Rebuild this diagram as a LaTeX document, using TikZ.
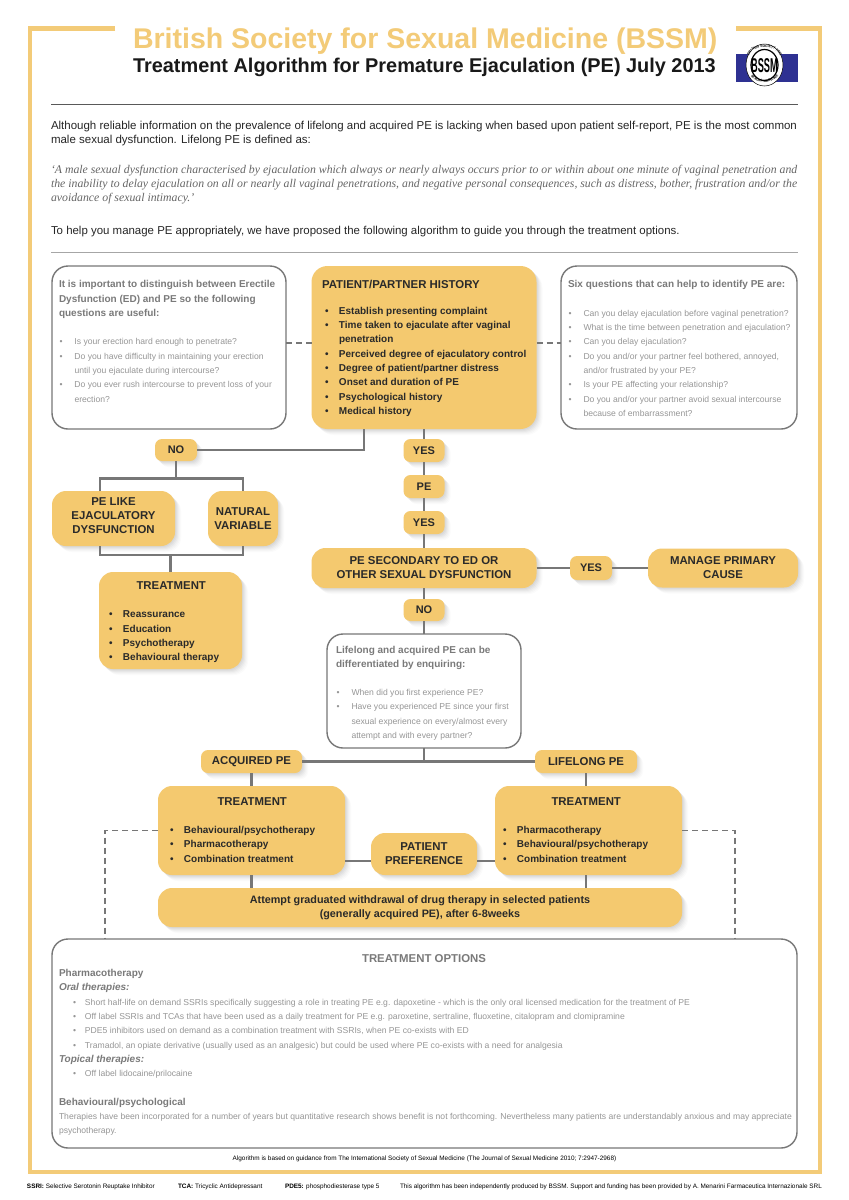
\documentclass[tikz,border=0pt]{standalone}
\usepackage{fontspec}
\setmainfont{Liberation Sans}
\newfontfamily\serifit{Liberation Serif}
\usetikzlibrary{shadows,decorations.text,calc}
\definecolor{gold}{HTML}{F4C96F}
\definecolor{framegold}{HTML}{F3CB78}
\definecolor{linegrey}{HTML}{777777}
\definecolor{headgrey}{HTML}{7A7A7A}
\definecolor{bodygrey}{HTML}{969696}
\definecolor{darktxt}{HTML}{2A2A2A}
\definecolor{bssmblue}{HTML}{2E3192}
\newcommand{\fs}[2]{\fontsize{#1pt}{#2pt}\selectfont}
% W H padL padT content : box filled from the top
\newcommand{\topbox}[5]{\parbox[c][#2pt][t]{#1pt}{\vspace*{#4pt}\hspace*{#3pt}\begin{minipage}[t]{740pt}\setlength{\parindent}{0pt}#5\end{minipage}}}
% W H content : centred
\newcommand{\midbox}[3]{\parbox[c][#2pt][c]{#1pt}{\centering #3\par}}
\newcommand{\bl}{\hspace*{3pt}\makebox[14pt][l]{•}}
\newcommand{\bn}{\hspace*{17pt}}
\newcommand{\wl}{\makebox[15.5pt][l]{\hspace*{.5pt}•}}
\newcommand{\wn}{\hspace*{15.5pt}}
\newcommand{\ol}{\hspace*{14pt}\makebox[12pt][l]{•}}
\tikzset{
  softshadow/.style={
    drop shadow={shadow xshift=1pt,shadow yshift=-1pt,opacity=.03,fill=black},
    drop shadow={shadow xshift=2pt,shadow yshift=-2pt,opacity=.03,fill=black},
    drop shadow={shadow xshift=3pt,shadow yshift=-3pt,opacity=.03,fill=black},
    drop shadow={shadow xshift=4pt,shadow yshift=-4pt,opacity=.025,fill=black},
    drop shadow={shadow xshift=5pt,shadow yshift=-5pt,opacity=.02,fill=black},
    drop shadow={shadow xshift=6pt,shadow yshift=-6pt,opacity=.015,fill=black}},
  goldbox/.style={fill=gold,softshadow,rounded corners=#1,inner sep=0pt,outer sep=0pt,anchor=north west,text=darktxt,font=\bfseries\fs{10}{14.3}},
  goldbox/.default=14pt,
  whitebox/.style={fill=white,draw=linegrey,line width=1.4pt,rounded corners=16pt,inner sep=0pt,outer sep=0pt,anchor=north west,font=\fs{8.6}{14.3}},
  conn/.style={draw=linegrey,line width=2.5pt},
  dashconn/.style={draw=linegrey,line width=1.1pt,dash pattern=on 6pt off 4pt},
  txtline/.style={anchor=base west,inner sep=0pt,outer sep=0pt},
  framepart/.style={draw=framegold,line width=4.5pt}
}
\begin{document}
\begin{tikzpicture}[x=1pt,y=-1pt]
\useasboundingbox (0,0) rectangle (849,1200);
\fill[white] (0,0) rectangle (849,1200);
% frame
\draw[framepart] (115,28.5) -- (30,28.5) -- (30,1172) -- (820,1172) -- (820,28.5) -- (736,28.5);
% header
\node[txtline,text=framegold,font=\bfseries\fs{28.5}{30}] (title) at (133,48) {British Society for Sexual Medicine (BSSM)};
\node[txtline,text=black!90,font=\bfseries\fs{19.9}{22}] (subtitle) at (133,72) {Treatment Algorithm for Premature Ejaculation (PE) July 2013};
% logo
\fill[bssmblue] (736,54) rectangle (798,81.7);
\filldraw[fill=white,draw=black,line width=.5pt] (764.5,65) ellipse [x radius=18.5,y radius=21];
\filldraw[fill=white,draw=black,line width=1.2pt] (764.5,65) ellipse [x radius=13.5,y radius=15.5];
\node[inner sep=0pt,xscale=.46,font=\bfseries\fs{20}{22}] (logotext) at (764.5,65.5) {BSSM};
\path[decorate,decoration={text along path,text align=center,text={|\bfseries\fs{3.4}{4}|BRITISH SOCIETY FOR}}] (748.5,70) .. controls (746,50) and (755,47.5) .. (764.5,47.5) .. controls (774,47.5) and (783,50) .. (780.5,70);
\path[decorate,decoration={text along path,text align=center,text={|\bfseries\fs{3.4}{4}|SEXUAL MEDICINE}}] (749,74) .. controls (755,85) and (774,85) .. (780,74);
% rules and introduction
\coordinate (r1a) at (51,104); \coordinate (r1b) at (798,104);
\coordinate (r2a) at (51,252.5); \coordinate (r2b) at (798,252.5);
\draw[draw=black!65,line width=1pt] (r1a) -- (r1b);
\draw[draw=black!35,line width=1pt] (r2a) -- (r2b);
\node[txtline,text=black!85,font=\fs{11.5}{12}] (p1a) at (51,129) {Although reliable information on the prevalence of lifelong and acquired PE is lacking when based upon patient self-report, PE is the most common};
\node[txtline,text=black!85,font=\fs{11.5}{12}] (p1b) at (51,143.5) {male sexual dysfunction. Lifelong PE is defined as:};
\node[txtline,text=black!60,font=\serifit\itshape\fs{11.78}{12}] (q1) at (51,173.5) {‘A male sexual dysfunction characterised by ejaculation which always or nearly always occurs prior to or within about one minute of vaginal penetration and};
\node[txtline,text=black!60,font=\serifit\itshape\fs{11.78}{12}] (q2) at (51,187.5) {the inability to delay ejaculation on all or nearly all vaginal penetrations, and negative personal consequences, such as distress, bother, frustration and/or the};
\node[txtline,text=black!60,font=\serifit\itshape\fs{11.78}{12}] (q3) at (51,201.5) {avoidance of sexual intimacy.’};
\node[txtline,text=black!85,font=\fs{11.45}{12}] (p2) at (51,234.5) {To help you manage PE appropriately, we have proposed the following algorithm to guide you through the treatment options.};
% top row
\node[whitebox] (edq) at (52,266) {\topbox{234}{163}{7}{14.5}{%
  \textcolor{headgrey}{\bfseries\fs{10}{14.3}It is important to distinguish between Erectile\\Dysfunction (ED) and PE so the following\\questions are useful:\\[14.3pt]}%
  \textcolor{bodygrey}{\fs{8.6}{14.3}\wl Is your erection hard enough to penetrate?\\\wl Do you have difficulty in maintaining your erection\\\wn until you ejaculate during intercourse?\\\wl Do you ever rush intercourse to prevent loss of your\\\wn erection?}}};
\node[goldbox=16pt] (hist) at (311.5,266) {\topbox{225}{163}{10.5}{14}{%
  {\fs{11.4}{14.3}PATIENT/PARTNER HISTORY\\[11.7pt]}%
  \bl Establish presenting complaint\\\bl Time taken to ejaculate after vaginal\\\bn penetration\\\bl Perceived degree of ejaculatory control\\\bl Degree of patient/partner distress\\\bl Onset and duration of PE\\\bl Psychological history\\\bl Medical history}};
\node[whitebox] (sixq) at (561,266) {\topbox{236}{163}{7}{14.5}{%
  \textcolor{headgrey}{\bfseries\fs{10}{14.3}Six questions that can help to identify PE are:\\[14.2pt]}%
  \textcolor{bodygrey}{\fs{8.6}{14.3}\wl Can you delay ejaculation before vaginal penetration?\\\wl What is the time between penetration and ejaculation?\\\wl Can you delay ejaculation?\\\wl Do you and/or your partner feel bothered, annoyed,\\\wn and/or frustrated by your PE?\\\wl Is your PE affecting your relationship?\\\wl Do you and/or your partner avoid sexual intercourse\\\wn because of embarrassment?}}};
% decisions
\node[goldbox=7pt] (no1) at (155,439) {\midbox{42}{22}{\fs{11}{14}NO}};
\node[goldbox=7pt] (yes1) at (403.5,439) {\midbox{41}{23}{\fs{11}{14}YES}};
\node[goldbox=7pt] (pe) at (403.5,475) {\midbox{41}{23}{\fs{11}{14}PE}};
\node[goldbox=7pt] (yes2) at (403.5,511) {\midbox{41}{23}{\fs{11}{14}YES}};
\node[goldbox=14pt] (pelike) at (52,491) {\midbox{123}{55}{\fs{11.4}{13.9}PE LIKE\\EJACULATORY\\DYSFUNCTION\\[5pt]}};
\node[goldbox=14pt] (natural) at (208,491) {\midbox{70}{55}{\fs{11.4}{13.9}NATURAL\\VARIABLE}};
\node[goldbox=14pt] (treatA) at (99,572) {\topbox{143}{97}{7}{9.5}{%
  \hspace*{30.5pt}{\fs{11.4}{14.3}TREATMENT\\[14.3pt]}%
  \bl Reassurance\\\bl Education\\\bl Psychotherapy\\\bl Behavioural therapy}};
\node[goldbox=14pt] (secondary) at (311.5,548) {\midbox{225}{40}{\fs{11.4}{13.9}PE SECONDARY TO ED OR\\OTHER SEXUAL DYSFUNCTION}};
\node[goldbox=7pt] (yes3) at (570,556) {\midbox{42}{24}{\fs{11}{14}YES}};
\node[goldbox=14pt] (manage) at (648,548.5) {\midbox{150}{39}{\fs{11.4}{13.9}MANAGE PRIMARY\\CAUSE}};
\node[goldbox=7pt] (no2) at (403.5,599) {\midbox{41}{22}{\fs{11}{14}NO}};
\node[whitebox] (enquire) at (327,634) {\topbox{194}{114}{9}{12}{%
  \textcolor{headgrey}{\bfseries\fs{10}{14.3}Lifelong and acquired PE can be\\differentiated by enquiring:\\[13.6pt]}%
  \textcolor{bodygrey}{\fs{8.6}{14.3}\wl When did you first experience PE?\\\wl Have you experienced PE since your first\\\wn sexual experience on every/almost every\\\wn attempt and with every partner?}}};
\node[goldbox=7pt] (acquired) at (201,750) {\midbox{101}{23}{\fs{11.4}{13.9}ACQUIRED PE}};
\node[goldbox=7pt] (lifelong) at (535,750) {\midbox{102}{23}{\fs{11.4}{13.9}LIFELONG PE}};
\node[goldbox=14pt] (treatB) at (158,786) {\topbox{187}{89}{9}{12}{%
  \hspace*{50.5pt}{\fs{11.4}{14.3}TREATMENT\\[13.3pt]}%
  \bl Behavioural/psychotherapy\\\bl Pharmacotherapy\\\bl Combination treatment}};
\node[goldbox=14pt] (treatC) at (495,786) {\topbox{187}{89}{5}{12}{%
  \hspace*{51.5pt}{\fs{11.4}{14.3}TREATMENT\\[13.3pt]}%
  \bl Pharmacotherapy\\\bl Behavioural/psychotherapy\\\bl Combination treatment}};
\node[goldbox=14pt] (pref) at (371,833) {\midbox{106}{42}{\fs{11.4}{13.9}PATIENT\\PREFERENCE}};
\node[goldbox=14pt] (attempt) at (158,888) {\midbox{524}{39}{\fs{10.8}{14.3}Attempt graduated withdrawal of drug therapy in selected patients\\(generally acquired PE), after 6-8weeks}};
% options
\node[whitebox] (opts) at (52,939) {\topbox{745}{209}{7}{15.3}{%
  \makebox[730pt][c]{\textcolor{headgrey}{\bfseries\fs{11.4}{14.3}TREATMENT OPTIONS}}\\
  \textcolor{headgrey}{\bfseries\fs{10}{14.3}Pharmacotherapy\\\itshape Oral therapies:\\}%
  \textcolor{bodygrey}{\fs{8.6}{14.3}\ol Short half-life on demand SSRIs specifically suggesting a role in treating PE e.g. dapoxetine - which is the only oral licensed medication for the treatment of PE\\\ol Off label SSRIs and TCAs that have been used as a daily treatment for PE e.g. paroxetine, sertraline, fluoxetine, citalopram and clomipramine\\\ol PDE5 inhibitors used on demand as a combination treatment with SSRIs, when PE co-exists with ED\\\ol Tramadol, an opiate derivative (usually used as an analgesic) but could be used where PE co-exists with a need for analgesia\\}%
  \textcolor{headgrey}{\bfseries\itshape\fs{10}{14.3}Topical therapies:\\}%
  \textcolor{bodygrey}{\fs{8.6}{14.3}\ol Off label lidocaine/prilocaine\\[14.3pt]}%
  \textcolor{headgrey}{\bfseries\fs{10}{14.3}Behavioural/psychological\\}%
  \textcolor{bodygrey}{\fs{8.58}{14.3}Therapies have been incorporated for a number of years but quantitative research shows benefit is not forthcoming. Nevertheless many patients are understandably anxious and may appreciate\\psychotherapy.}}};
% connectors
\coordinate (barT) at (176,478.5);
\coordinate (barB) at (170.5,555);
\coordinate (midbar) at (424,761.5);
\coordinate (dashL) at (105,939);
\coordinate (dashR) at (735,939);
\draw[conn] ([xshift=-60pt]hist.south) |- (no1.east);
\draw[conn] (no1.south) -- (barT);
\draw[conn] ([xshift=-13.5pt]pelike.north) |- (barT) -| (natural.north);
\draw[conn] ([xshift=-13.5pt]pelike.south) |- (barB) -| (natural.south);
\draw[conn] (barB) -- (barB |- treatA.north);
\draw[conn] (hist.south) -- (yes1.north);
\draw[conn] (yes1.south) -- (pe.north);
\draw[conn] (pe.south) -- (yes2.north);
\draw[conn] (yes2.south) -- (secondary.north);
\draw[conn] (secondary.east) -- (yes3.west);
\draw[conn] (yes3.east) -- (manage.west);
\draw[conn] (secondary.south) -- (no2.north);
\draw[conn] (no2.south) -- (enquire.north);
\draw[conn] (enquire.south) -- (midbar);
\draw[conn] (acquired.east) -- (lifelong.west);
\draw[conn] (acquired.south) -- (acquired.south |- treatB.north);
\draw[conn] (lifelong.south) -- (lifelong.south |- treatC.north);
\draw[conn] ([yshift=-30.5pt]treatB.east) -- ([yshift=-30.5pt]treatB.east -| pref.west);
\draw[conn] ([yshift=-30.5pt]treatC.west) -- ([yshift=-30.5pt]treatC.west -| pref.east);
\draw[conn] (acquired.south |- treatB.south) -- (acquired.south |- attempt.north);
\draw[conn] (lifelong.south |- treatC.south) -- (lifelong.south |- attempt.north);
\draw[dashconn] ([yshift=4.5pt]edq.east) -- ([yshift=4.5pt]hist.west);
\draw[dashconn] ([yshift=4.5pt]hist.east) -- ([yshift=4.5pt]sixq.west);
\draw[dashconn] (treatB.west) -| (dashL);
\draw[dashconn] (treatC.east) -| (dashR);
% footnotes
\node[anchor=base,inner sep=0pt,text=black,font=\fs{6.4}{8}] (guid) at (424.5,1160) {Algorithm is based on guidance from The International Society of Sexual Medicine (The Journal of Sexual Medicine 2010; 7:2947-2968)};
\node[txtline,font=\fs{6.4}{8}] (f1) at (27,1188) {\textbf{SSRI:} Selective Serotonin Reuptake Inhibitor};
\node[txtline,font=\fs{6.4}{8}] (f2) at (178,1188) {\textbf{TCA:} Tricyclic Antidepressant};
\node[txtline,font=\fs{6.4}{8}] (f3) at (285,1188) {\textbf{PDE5:} phosphodiesterase type 5};
\node[txtline,font=\fs{6.4}{8}] (f4) at (400,1188) {This algorithm has been independently produced by BSSM. Support and funding has been provided by A. Menarini Farmaceutica Internazionale SRL};
\end{tikzpicture}
\end{document}
